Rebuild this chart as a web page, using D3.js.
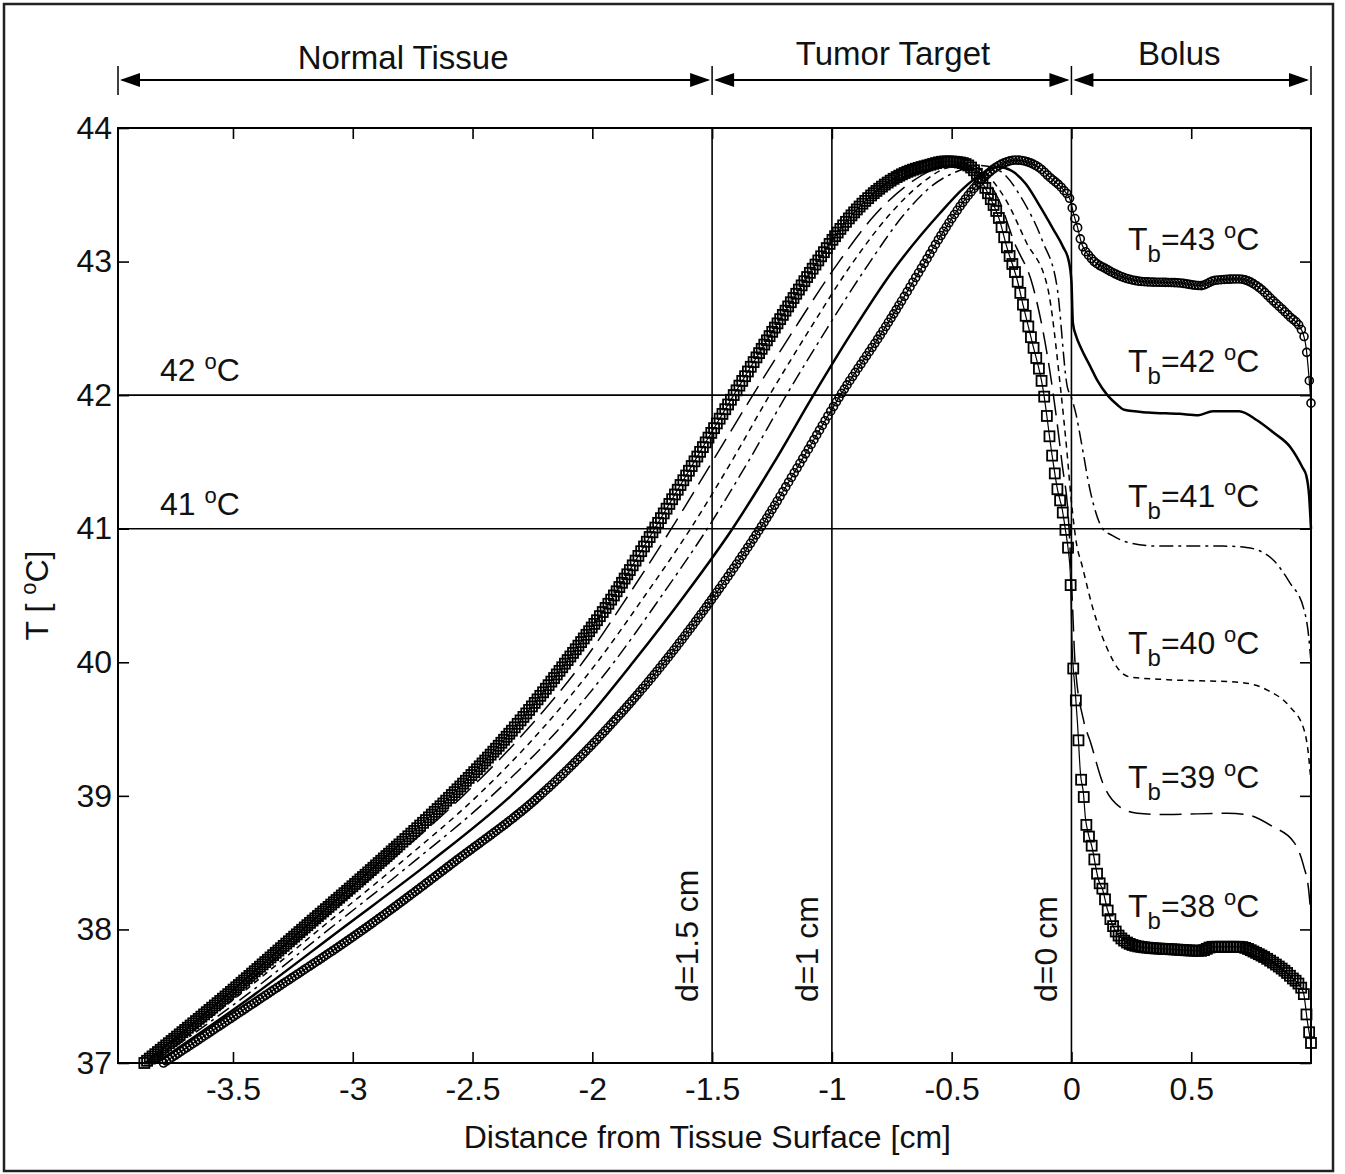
<!DOCTYPE html>
<html>
<head>
<meta charset="utf-8">
<script src="https://cdn.jsdelivr.net/npm/d3@7"></script>
<style>
  body { margin: 0; background: #fff; }
  svg text { font-family: "Liberation Sans", Arial, sans-serif; fill: #111; }
</style>
</head>
<body>
<div id="chart"></div>
<script>
// ---- data ----
const xTicks = [-3.5, -3, -2.5, -2, -1.5, -1, -0.5, 0, 0.5];
const yTicks = [37, 38, 39, 40, 41, 42, 43, 44];
const refTemps = [42, 41];
const refDepths = [-1.5, -1, 0];
const depthLabels = ['d=1.5 cm', 'd=1 cm', 'd=0 cm'];
const regionNames = ['Normal Tissue', 'Tumor Target', 'Bolus'];
const regionEdges = [-3.98, -1.5, 0, 1.0];
const bolusTemps = [43, 42, 41, 40, 39, 38];

// temperature profiles [x (cm), T (degC)], one per bolus temperature
const tb38 = [[-3.87,37.0],[-3.53,37.5],[-3.21,38.0],[-2.89,38.5],[-2.59,39.0],[-2.33,39.5],[-2.11,40.0],
  [-1.91,40.5],[-1.74,41.0],[-1.575,41.5],[-1.41,42.0],[-1.24,42.5],[-1.06,43.0],[-0.94,43.3],[-0.82,43.52],
  [-0.70,43.66],[-0.60,43.72],[-0.52,43.75],[-0.46,43.74],[-0.40,43.67],[-0.34,43.48],[-0.30,43.31],
  [-0.27,43.11],[-0.226,42.86],[-0.20,42.66],[-0.163,42.39],[-0.12,42.06],[-0.08,41.54],[-0.058,41.29],
  [-0.038,41.14],[-0.025,40.99],[-0.012,40.82],[-0.005,40.67],[0.003,40.12],[0.015,39.8],[0.025,39.55],
  [0.038,39.16],[0.05,39.02],[0.058,38.84],[0.07,38.72],[0.088,38.6],[0.10,38.48],[0.113,38.37],[0.13,38.3],
  [0.15,38.15],[0.175,38.02],[0.217,37.92],[0.288,37.87],[0.43,37.85],[0.54,37.84],[0.59,37.87],[0.70,37.87],
  [0.776,37.82],[0.843,37.75],[0.914,37.65],[0.968,37.53],[0.985,37.31],[1.0,37.15]];

const tb39 = [[-3.86,37.0],[-3.51,37.5],[-3.18,38.0],[-2.85,38.5],[-2.54,39.0],[-2.27,39.5],[-2.04,40.0],
  [-1.85,40.5],[-1.67,41.0],[-1.50,41.5],[-1.33,42.0],[-1.155,42.5],[-0.97,43.0],[-0.82,43.35],[-0.68,43.58],
  [-0.56,43.7],[-0.46,43.73],[-0.38,43.66],[-0.30,43.45],[-0.24,43.15],[-0.16,42.81],[-0.08,42.06],
  [-0.04,41.5],[-0.01,41.0],[0.005,40.4],[0.015,40.0],[0.05,39.57],[0.08,39.4],[0.13,39.1],[0.2,38.92],
  [0.275,38.87],[0.4,38.86],[0.65,38.87],[0.73,38.86],[0.84,38.77],[0.93,38.65],[0.97,38.47],[0.99,38.3],[1.0,38.1]];

const tb40 = [[-3.85,37.0],[-3.48,37.5],[-3.14,38.0],[-2.80,38.5],[-2.48,39.0],[-2.21,39.5],[-1.98,40.0],
  [-1.78,40.5],[-1.59,41.0],[-1.42,41.5],[-1.26,42.0],[-1.09,42.5],[-0.91,43.0],[-0.76,43.35],[-0.63,43.58],
  [-0.52,43.7],[-0.43,43.72],[-0.36,43.66],[-0.27,43.45],[-0.19,43.15],[-0.10,42.81],[-0.046,42.06],
  [-0.02,41.6],[0.0,41.2],[0.02,40.9],[0.045,40.72],[0.09,40.4],[0.15,40.1],[0.2,39.94],[0.245,39.89],
  [0.4,39.87],[0.7,39.85],[0.82,39.79],[0.91,39.67],[0.97,39.5],[0.99,39.3],[1.0,39.1]];

const tb41 = [[-3.84,37.0],[-3.45,37.5],[-3.10,38.0],[-2.75,38.5],[-2.42,39.0],[-2.14,39.5],[-1.91,40.0],
  [-1.71,40.5],[-1.52,41.0],[-1.35,41.5],[-1.19,42.0],[-1.02,42.5],[-0.84,43.0],[-0.70,43.35],[-0.58,43.57],
  [-0.47,43.68],[-0.38,43.72],[-0.30,43.68],[-0.20,43.45],[-0.12,43.15],[-0.06,42.81],[-0.017,42.06],
  [0.0,41.98],[0.02,41.85],[0.038,41.68],[0.08,41.27],[0.13,41.0],[0.17,40.95],[0.23,40.9],[0.36,40.87],
  [0.63,40.87],[0.73,40.86],[0.84,40.77],[0.91,40.6],[0.97,40.4],[0.99,40.2],[1.0,40.0]];

const tb42 = [[-3.82,37.0],[-3.42,37.5],[-3.05,38.0],[-2.68,38.5],[-2.34,39.0],[-2.06,39.5],[-1.83,40.0],
  [-1.615,40.5],[-1.415,41.0],[-1.24,41.5],[-1.077,42.0],[-0.92,42.46],[-0.75,42.92],[-0.55,43.36],
  [-0.45,43.55],[-0.38,43.65],[-0.31,43.71],[-0.25,43.68],[-0.19,43.58],[-0.14,43.44],[-0.075,43.24],
  [-0.035,43.11],[-0.012,43.01],[0.0,42.85],[0.006,42.54],[0.02,42.44],[0.038,42.36],[0.08,42.21],
  [0.108,42.11],[0.15,42.0],[0.19,41.93],[0.22,41.89],[0.32,41.87],[0.45,41.86],[0.53,41.85],[0.59,41.88],
  [0.70,41.88],[0.776,41.81],[0.843,41.72],[0.914,41.61],[0.964,41.46],[0.98,41.4],[0.992,41.25],[1.0,41.0]];

const tb43 = [[-3.79,37.0],[-3.37,37.5],[-2.955,38.0],[-2.58,38.5],[-2.22,39.0],[-1.94,39.5],[-1.70,40.0],
  [-1.49,40.5],[-1.30,41.0],[-1.13,41.5],[-0.964,42.0],[-0.78,42.5],[-0.61,43.0],[-0.55,43.18],[-0.42,43.52],
  [-0.32,43.7],[-0.23,43.76],[-0.14,43.71],[-0.09,43.63],[-0.035,43.54],[-0.005,43.46],[0.01,43.35],
  [0.025,43.26],[0.04,43.15],[0.08,43.03],[0.15,42.94],[0.22,42.88],[0.30,42.85],[0.45,42.84],[0.54,42.82],
  [0.60,42.86],[0.70,42.87],[0.78,42.81],[0.84,42.71],[0.91,42.59],[0.96,42.49],[0.98,42.35],[0.99,42.17],[1.0,41.94]];

// label anchors (layout only)
const tbLabelAt = [43.09, 42.17, 41.16, 40.06, 39.06, 38.09];
const regionLabelAt = [-2.79, -0.745, 0.45];

// ---- layout ----
const W = 1345, H = 1174;
const plotL = 118, plotR = 1311, plotT = 128, plotB = 1063;
const fontSize = 32;

const svg = d3.select('#chart').append('svg')
  .attr('width', W).attr('height', H);

svg.append('rect')
  .attr('x', 4).attr('y', 4).attr('width', 1329).attr('height', 1167)
  .attr('fill', '#fff').attr('stroke', '#222').attr('stroke-width', 2.5);

const x = d3.scaleLinear().domain([-3.98, 1.0]).range([plotL, plotR]);
const y = d3.scaleLinear().domain([37, 44]).range([plotB, plotT]);

// axes with inward ticks on all four sides
svg.append('g').attr('transform', `translate(0,${plotB})`)
  .call(d3.axisBottom(x).tickValues(xTicks).tickSize(-11).tickPadding(14).tickFormat(d => String(d)));
svg.append('g').attr('transform', `translate(0,${plotT})`)
  .call(d3.axisTop(x).tickValues(xTicks).tickSize(-11).tickFormat(''));
svg.append('g').attr('transform', `translate(${plotL},0)`)
  .call(d3.axisLeft(y).tickValues(yTicks).tickSize(-11).tickPadding(6).tickFormat(d3.format('d')));
svg.append('g').attr('transform', `translate(${plotR},0)`)
  .call(d3.axisRight(y).tickValues(yTicks).tickSize(-11).tickFormat(''));

svg.selectAll('.domain').remove();
svg.selectAll('.tick line').attr('stroke', '#000').attr('stroke-width', 1.6);
svg.selectAll('.tick text').attr('font-size', fontSize).attr('fill', '#111')
  .attr('font-family', '"Liberation Sans", Arial, sans-serif');

svg.append('rect')
  .attr('x', plotL).attr('y', plotT).attr('width', plotR - plotL).attr('height', plotB - plotT)
  .attr('fill', 'none').attr('stroke', '#000').attr('stroke-width', 2);

// reference lines
svg.selectAll('.href').data(refTemps).enter().append('line')
  .attr('x1', plotL).attr('x2', plotR).attr('y1', d => y(d)).attr('y2', d => y(d))
  .attr('stroke', '#000').attr('stroke-width', 1.6);
svg.selectAll('.vref').data(refDepths).enter().append('line')
  .attr('x1', d => x(d)).attr('x2', d => x(d)).attr('y1', plotT).attr('y2', plotB)
  .attr('stroke', '#000').attr('stroke-width', 1.6);

// reference labels "42 oC" / "41 oC"
refTemps.forEach(t => {
  const tx = svg.append('text').attr('x', 160).attr('y', y(t) - 14).attr('font-size', fontSize);
  tx.append('tspan').text(t + ' ');
  tx.append('tspan').attr('font-size', 22).attr('dy', -12).text('o');
  tx.append('tspan').attr('dy', 12).text('C');
});

// depth labels, rotated
refDepths.forEach((d, i) => {
  svg.append('text')
    .attr('transform', `translate(${x(d) - 14},1002) rotate(-90)`)
    .attr('font-size', fontSize)
    .text(depthLabels[i]);
});

// curves
const line = d3.line().x(d => x(d[0])).y(d => y(d[1])).curve(d3.curveMonotoneX);
const plot = svg.append('g');

// marker positions taken along the drawn path, one every stepX pixels of x
function sampleAlong(path, stepX) {
  const len = path.getTotalLength();
  const pts = [];
  let nextX = -Infinity;
  for (let s = 0; s <= len; s += 0.5) {
    const p = path.getPointAtLength(s);
    if (p.x >= nextX) { pts.push([p.x, p.y]); nextX = p.x + stepX; }
  }
  const end = path.getPointAtLength(len);
  pts.push([end.x, end.y]);
  return pts;
}

// Tb = 38: hollow squares
const p38 = plot.append('path').datum(tb38).attr('d', line)
  .attr('fill', 'none').attr('stroke', '#000').attr('stroke-width', 1.2);
plot.append('g').selectAll('rect').data(sampleAlong(p38.node(), 2.6)).enter().append('rect')
  .attr('x', d => d[0] - 5).attr('y', d => d[1] - 5).attr('width', 10).attr('height', 10)
  .attr('fill', 'none').attr('stroke', '#000').attr('stroke-width', 1.8);

// Tb = 39..41: dashed variants
const dashSeries = [[tb39, '22,9'], [tb40, '6,5'], [tb41, '14,5,3,5']];
dashSeries.forEach(([data, dash]) => {
  plot.append('path').datum(data).attr('d', line)
    .attr('fill', 'none').attr('stroke', '#000').attr('stroke-width', 1.5)
    .attr('stroke-dasharray', dash);
});

// Tb = 42: solid
plot.append('path').datum(tb42).attr('d', line)
  .attr('fill', 'none').attr('stroke', '#000').attr('stroke-width', 2.5);

// Tb = 43: hollow circles
const p43 = plot.append('path').datum(tb43).attr('d', line)
  .attr('fill', 'none').attr('stroke', '#000').attr('stroke-width', 1.2);
plot.append('g').selectAll('circle').data(sampleAlong(p43.node(), 2.6)).enter().append('circle')
  .attr('cx', d => d[0]).attr('cy', d => d[1]).attr('r', 4)
  .attr('fill', 'none').attr('stroke', '#000').attr('stroke-width', 1.6);

// T_b labels
bolusTemps.forEach((t, i) => {
  const tx = svg.append('text').attr('x', 1128).attr('y', y(tbLabelAt[i])).attr('font-size', fontSize);
  tx.append('tspan').text('T');
  tx.append('tspan').attr('font-size', 24).attr('dy', 12).text('b');
  tx.append('tspan').attr('dy', -12).text('=' + t + ' ');
  tx.append('tspan').attr('font-size', 22).attr('dy', -12).text('o');
  tx.append('tspan').attr('dy', 12).text('C');
});

// region arrows along the top
const arrowY = 80;
function arrowHead(xTip, dir) {
  const p = d3.path();
  p.moveTo(xTip, arrowY);
  p.lineTo(xTip + dir * 20, arrowY - 7);
  p.lineTo(xTip + dir * 20, arrowY + 7);
  p.closePath();
  svg.append('path').attr('d', p.toString()).attr('fill', '#000');
}
regionEdges.forEach(e => {
  svg.append('line').attr('x1', x(e)).attr('x2', x(e)).attr('y1', 66).attr('y2', 95)
    .attr('stroke', '#000').attr('stroke-width', 1.5);
});
regionNames.forEach((name, i) => {
  const a = x(regionEdges[i]), b = x(regionEdges[i + 1]);
  svg.append('line').attr('x1', a + 4).attr('x2', b - 4).attr('y1', arrowY).attr('y2', arrowY)
    .attr('stroke', '#000').attr('stroke-width', 2.2);
  arrowHead(a + 2, 1);
  arrowHead(b - 2, -1);
  svg.append('text').attr('x', x(regionLabelAt[i])).attr('y', i === 0 ? 69 : 65)
    .attr('text-anchor', 'middle').attr('font-size', 33).text(name);
});

// axis titles
svg.append('text').attr('x', x(-1.52)).attr('y', 1148)
  .attr('text-anchor', 'middle').attr('font-size', fontSize)
  .text('Distance from Tissue Surface [cm]');

const yl = svg.append('text')
  .attr('transform', `translate(48,${(plotT + plotB) / 2}) rotate(-90)`)
  .attr('text-anchor', 'middle').attr('font-size', fontSize);
yl.append('tspan').text('T [ ');
yl.append('tspan').attr('font-size', 22).attr('dy', -12).text('o');
yl.append('tspan').attr('dy', 12).text('C]');
</script>
</body>
</html>
